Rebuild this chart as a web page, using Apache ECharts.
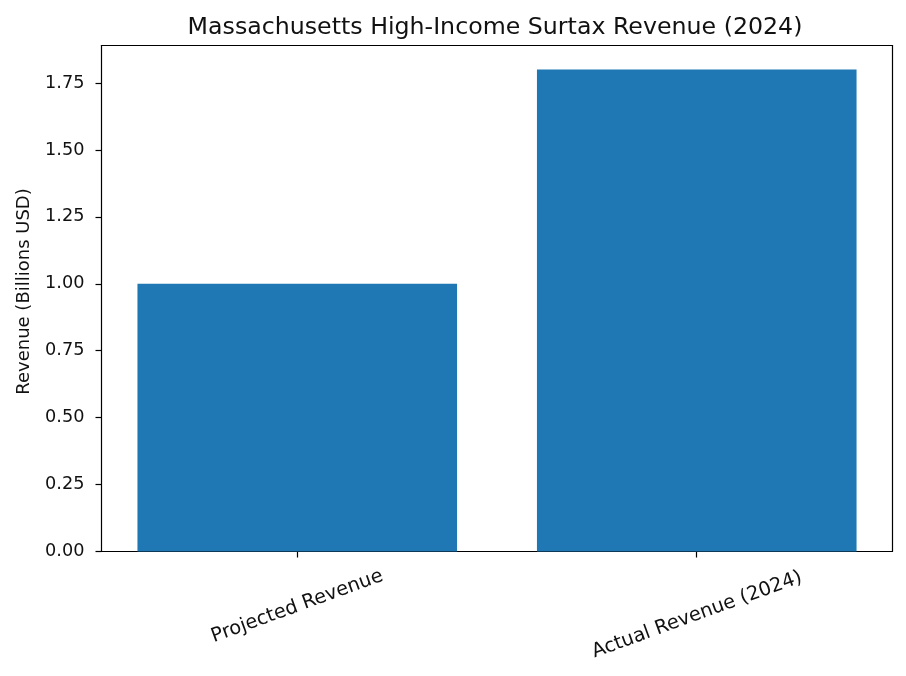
<!DOCTYPE html>
<html>
<head>
<meta charset="utf-8">
<script src="https://cdn.jsdelivr.net/npm/echarts@6/dist/echarts.min.js"></script>
<style>html,body{margin:0;padding:0;background:#fff}#c{width:906px;height:676px}</style>
</head>
<body>
<div id="c"></div>
<script>
const titleText = 'Massachusetts High-Income Surtax Revenue (2024)';
const yAxisName = 'Revenue (Billions USD)';
const categories = ['Projected Revenue', 'Actual Revenue (2024)'];
const revenue = [1.0, 1.8];
const yTicks = [0, 0.25, 0.5, 0.75, 1.0, 1.25, 1.5, 1.75];
const catPositions = categories.map((c, i) => i);

const FONT = 'DejaVu Sans';
const chart = echarts.init(document.getElementById('c'), null, {renderer: 'canvas'});
const lineStyle = {color: '#000', width: 1.2};
const XFS = 19.4;
chart.setOption({
  animation: false,
  backgroundColor: '#fff',
  textStyle: {fontFamily: FONT},
  title: {
    text: titleText,
    left: 490, top: 11, textAlign: 'center',
    textStyle: {fontFamily: FONT, fontSize: 23.7, fontWeight: 'normal', color: '#111'}
  },
  grid: {left: 101.5, top: 45.5, width: 791, height: 506, outerBoundsMode: 'none', containLabel: false},
  xAxis: [{
    type: 'value', min: -0.49, max: 1.49, position: 'bottom',
    splitLine: {show: false},
    axisLine: {show: true, onZero: false, lineStyle},
    axisTick: {show: true, length: 6, lineStyle, customValues: catPositions},
    axisLabel: {
      customValues: catPositions, rotate: 20, align: 'center', verticalAlign: 'middle',
      margin: 55, fontFamily: FONT, fontSize: XFS, color: '#111',
      formatter: v => (Math.round(v) === 0 ? '{a|' : '{b|') + categories[Math.round(v)] + '}',
      rich: {
        a: {fontFamily: FONT, fontSize: XFS, color: '#111'},
        b: {fontFamily: FONT, fontSize: XFS, color: '#111', padding: [16, 5, 0, 0]}
      }
    }
  }, {
    type: 'value', min: -0.49, max: 1.49, position: 'top',
    splitLine: {show: false},
    axisLine: {show: true, onZero: false, lineStyle},
    axisTick: {show: false}, axisLabel: {show: false}
  }],
  yAxis: [{
    type: 'value', min: 0, max: 1.89, position: 'left',
    name: yAxisName, nameLocation: 'middle', nameGap: 68,
    nameTextStyle: {fontFamily: FONT, fontSize: 18, color: '#111', padding: [0, 0, 0, 14]},
    splitLine: {show: false},
    axisLine: {show: true, onZero: false, lineStyle},
    axisTick: {show: true, length: 6, lineStyle, customValues: yTicks},
    axisLabel: {customValues: yTicks, margin: 17, fontFamily: FONT, fontSize: 17.7, color: '#111',
      formatter: v => v.toFixed(2)}
  }, {
    type: 'value', min: 0, max: 1.89, position: 'right',
    splitLine: {show: false},
    axisLine: {show: true, onZero: false, lineStyle},
    axisTick: {show: false}, axisLabel: {show: false}
  }],
  series: [{
    type: 'bar', xAxisIndex: 0, yAxisIndex: 0,
    barWidth: '80%',
    itemStyle: {color: '#1f77b4'},
    data: revenue.map((v, i) => [catPositions[i], v])
  }]
});
</script>
</body>
</html>
